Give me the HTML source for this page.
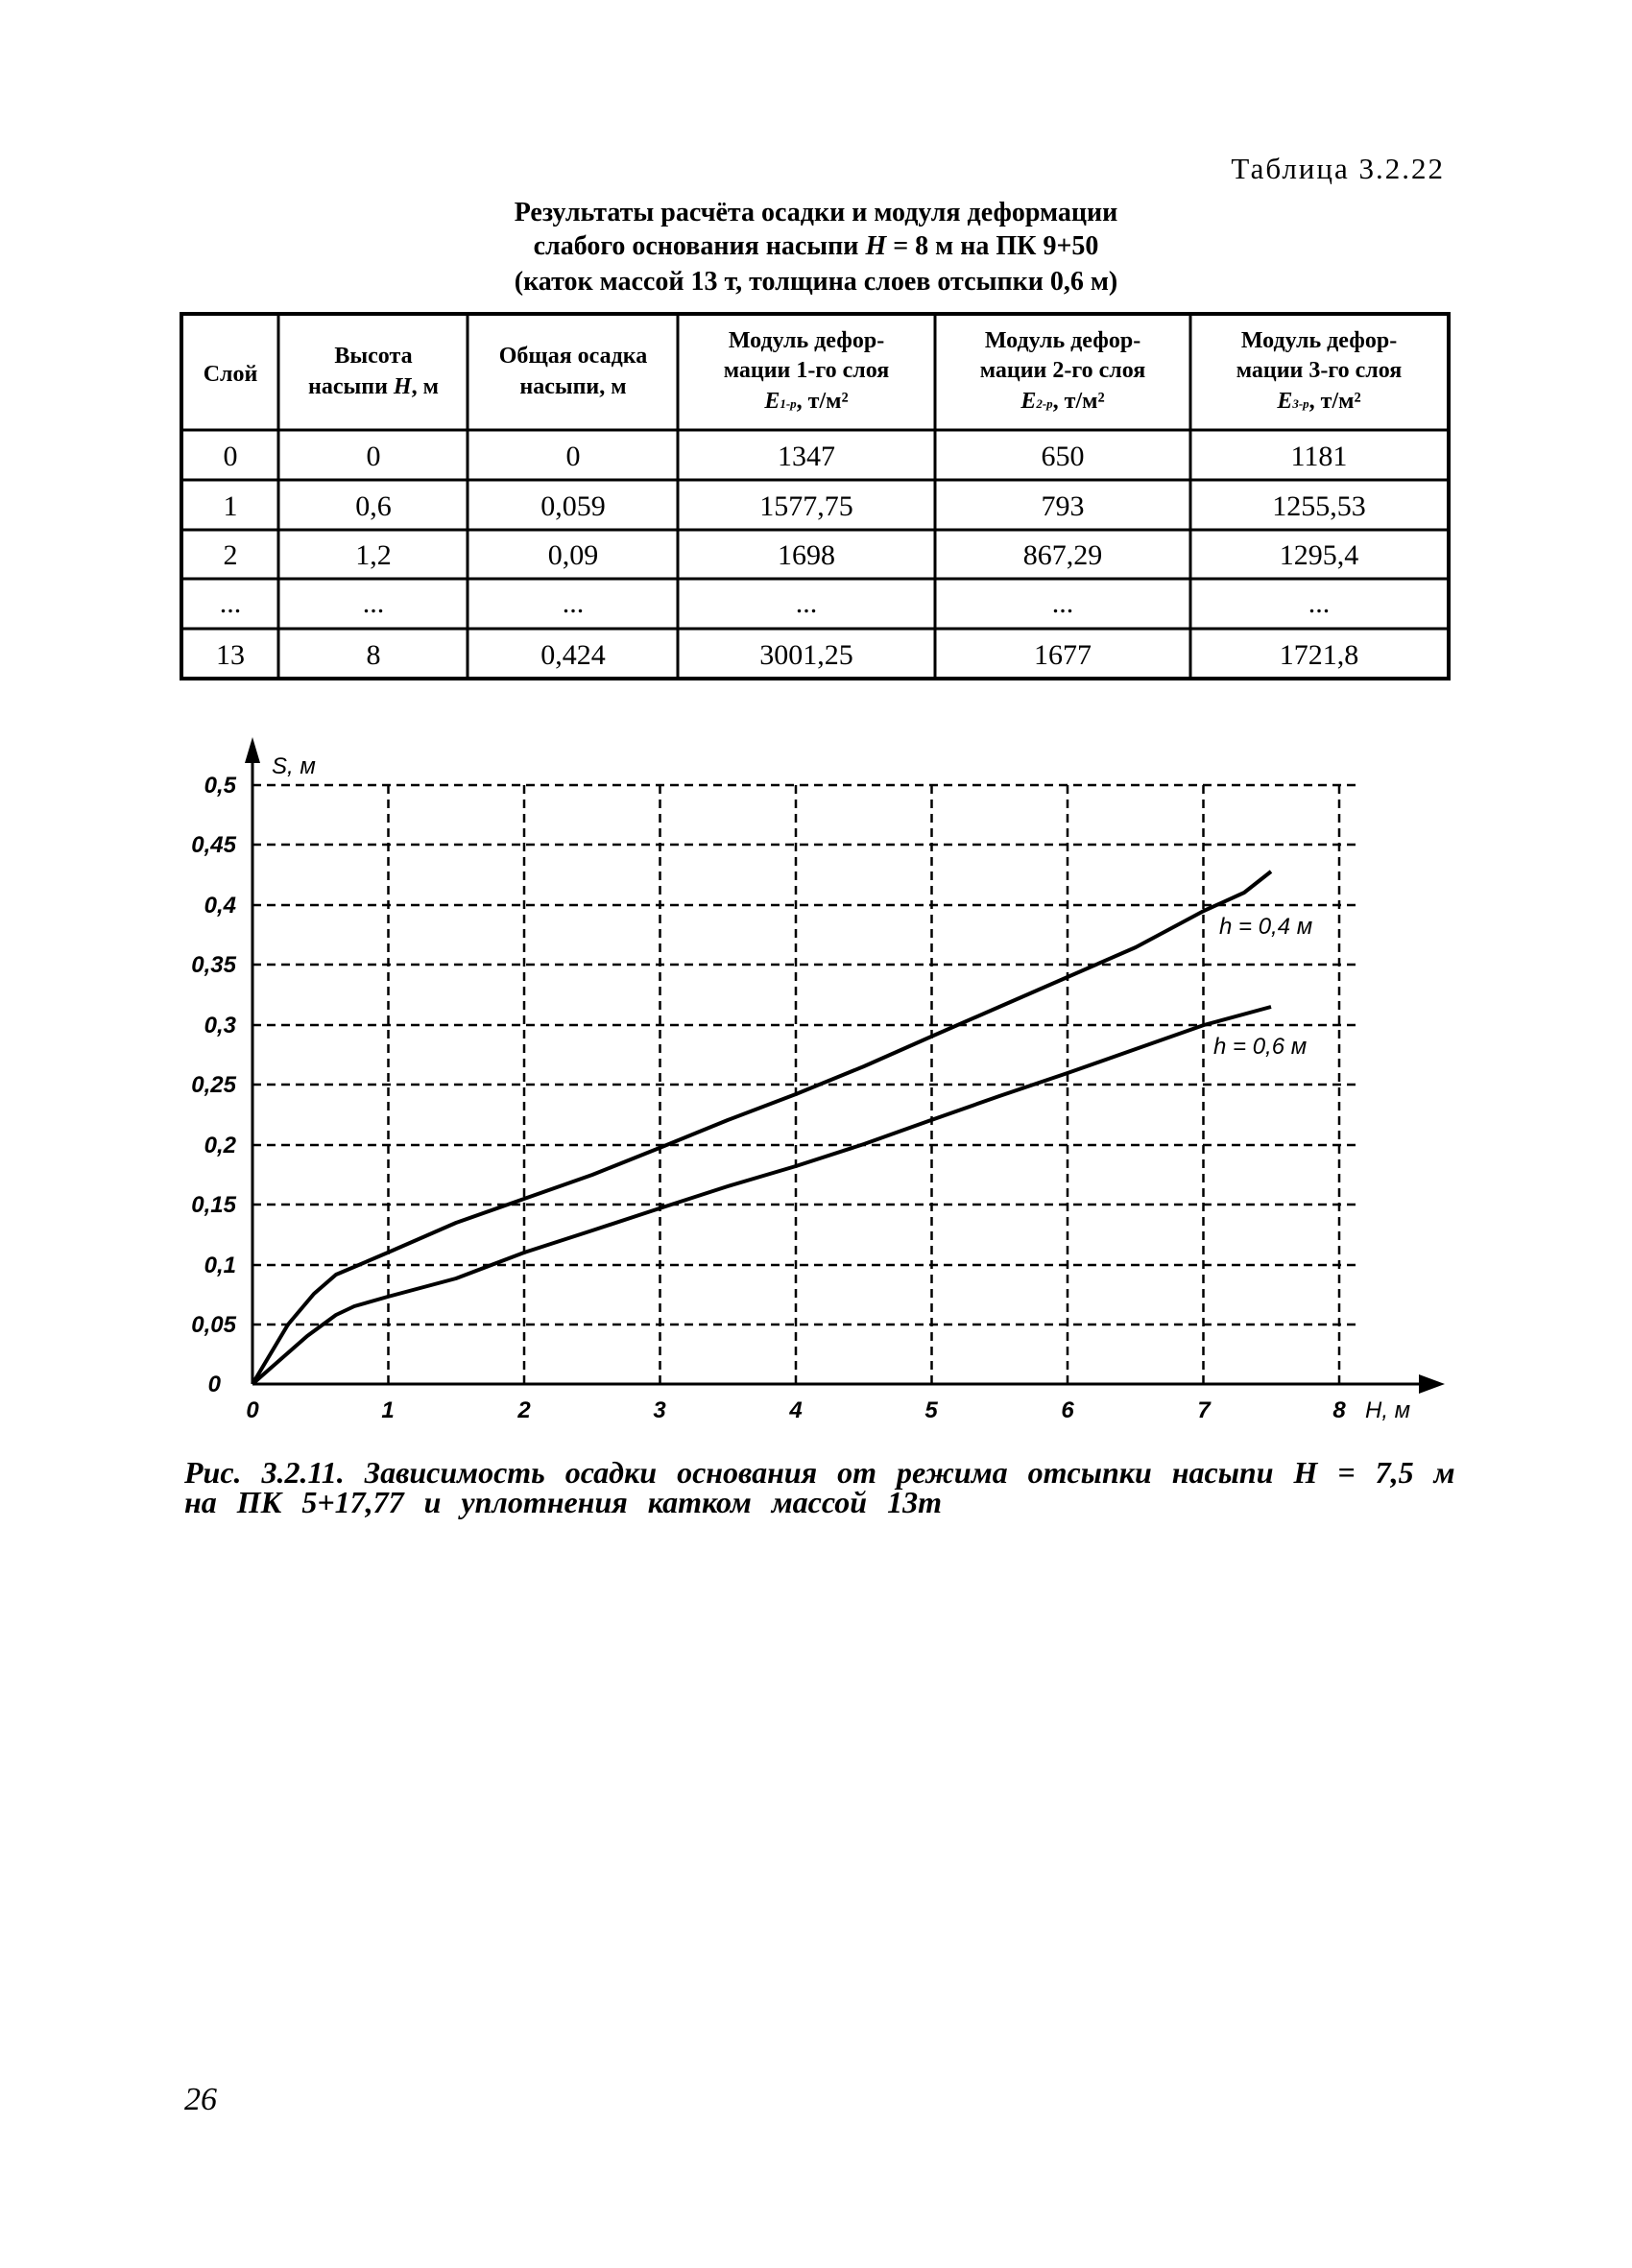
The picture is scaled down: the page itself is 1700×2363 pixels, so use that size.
<!DOCTYPE html>
<html><head><meta charset="utf-8"><style>
html,body{margin:0;padding:0;background:#fff;}
svg{display:block}
</style></head><body>
<svg width="1700" height="2363" xmlns="http://www.w3.org/2000/svg">
<rect width="1700" height="2363" fill="#fff"/>
<g font-family="Liberation Serif, serif" fill="#000">
<text x="1505" y="186" text-anchor="end" font-size="31" letter-spacing="2">Таблица 3.2.22</text>
<g font-weight="bold" font-size="28" text-anchor="middle">
<text x="850" y="230">Результаты расчёта осадки и модуля деформации</text>
<text x="850" y="265">слабого основания насыпи <tspan font-style="italic">H</tspan> = 8 м на ПК 9+50</text>
<text x="850" y="302">(каток массой 13 т, толщина слоев отсыпки 0,6 м)</text>
</g>
</g>
<g stroke="#000" fill="none">
<rect x="189" y="327" width="1320" height="380" stroke-width="4"/>
<g stroke-width="3">
<line x1="189" y1="448" x2="1509" y2="448"/>
<line x1="189" y1="500" x2="1509" y2="500"/>
<line x1="189" y1="552" x2="1509" y2="552"/>
<line x1="189" y1="603" x2="1509" y2="603"/>
<line x1="189" y1="655" x2="1509" y2="655"/>
<line x1="290" y1="327" x2="290" y2="707"/>
<line x1="487" y1="327" x2="487" y2="707"/>
<line x1="706" y1="327" x2="706" y2="707"/>
<line x1="974" y1="327" x2="974" y2="707"/>
<line x1="1240" y1="327" x2="1240" y2="707"/>
</g></g>
<g font-family="Liberation Serif, serif" fill="#000" text-anchor="middle">
<g font-weight="bold" font-size="24">
<text x="240" y="397">Слой</text>
<text x="389" y="378">Высота</text><text x="389" y="410">насыпи <tspan font-style="italic">H</tspan>, м</text>
<text x="597" y="378">Общая осадка</text><text x="597" y="410">насыпи, м</text>
<text x="840" y="362">Модуль дефор-</text><text x="840" y="393">мации 1-го слоя</text><text x="840" y="425"><tspan font-style="italic">E</tspan><tspan font-size="13" font-style="italic">1-р</tspan>, т/м²</text>
<text x="1107" y="362">Модуль дефор-</text><text x="1107" y="393">мации 2-го слоя</text><text x="1107" y="425"><tspan font-style="italic">E</tspan><tspan font-size="13" font-style="italic">2-р</tspan>, т/м²</text>
<text x="1374" y="362">Модуль дефор-</text><text x="1374" y="393">мации 3-го слоя</text><text x="1374" y="425"><tspan font-style="italic">E</tspan><tspan font-size="13" font-style="italic">3-р</tspan>, т/м²</text>
</g>
<g font-size="30">
<text x="240" y="485">0</text><text x="389" y="485">0</text><text x="597" y="485">0</text><text x="840" y="485">1347</text><text x="1107" y="485">650</text><text x="1374" y="485">1181</text>
<text x="240" y="537">1</text><text x="389" y="537">0,6</text><text x="597" y="537">0,059</text><text x="840" y="537">1577,75</text><text x="1107" y="537">793</text><text x="1374" y="537">1255,53</text>
<text x="240" y="588">2</text><text x="389" y="588">1,2</text><text x="597" y="588">0,09</text><text x="840" y="588">1698</text><text x="1107" y="588">867,29</text><text x="1374" y="588">1295,4</text>
<text x="240" y="638">...</text><text x="389" y="638">...</text><text x="597" y="638">...</text><text x="840" y="638">...</text><text x="1107" y="638">...</text><text x="1374" y="638">...</text>
<text x="240" y="692">13</text><text x="389" y="692">8</text><text x="597" y="692">0,424</text><text x="840" y="692">3001,25</text><text x="1107" y="692">1677</text><text x="1374" y="692">1721,8</text>
</g></g>
<g stroke="#000" stroke-width="2.5" stroke-dasharray="9,6" fill="none">
<line x1="263" y1="818" x2="1417" y2="818"/>
<line x1="263" y1="880" x2="1417" y2="880"/>
<line x1="263" y1="943" x2="1417" y2="943"/>
<line x1="263" y1="1005" x2="1417" y2="1005"/>
<line x1="263" y1="1068" x2="1417" y2="1068"/>
<line x1="263" y1="1130" x2="1417" y2="1130"/>
<line x1="263" y1="1193" x2="1417" y2="1193"/>
<line x1="263" y1="1255" x2="1417" y2="1255"/>
<line x1="263" y1="1318" x2="1417" y2="1318"/>
<line x1="263" y1="1380" x2="1417" y2="1380"/>
<line x1="404.5" y1="818" x2="404.5" y2="1442"/>
<line x1="546" y1="818" x2="546" y2="1442"/>
<line x1="687.5" y1="818" x2="687.5" y2="1442"/>
<line x1="829" y1="818" x2="829" y2="1442"/>
<line x1="970.5" y1="818" x2="970.5" y2="1442"/>
<line x1="1112" y1="818" x2="1112" y2="1442"/>
<line x1="1253.5" y1="818" x2="1253.5" y2="1442"/>
<line x1="1395" y1="818" x2="1395" y2="1442"/>
</g>
<g stroke="#000" stroke-width="3">
<line x1="263" y1="1442" x2="1490" y2="1442"/>
<line x1="263" y1="1442" x2="263" y2="785"/>
</g>
<polygon points="1505,1442 1478,1432 1478,1452" fill="#000"/>
<polygon points="263,768 255,795 271,795" fill="#000"/>
<g fill="none" stroke="#000" stroke-width="4" stroke-linejoin="round">
<polyline points="263,1442 300,1380 327,1348 350,1328 376,1317 404,1305 475,1274 546,1249 617,1224 687,1196 758,1167 829,1140 900,1111 970,1080 1041,1049 1112,1018 1183,987 1254,949 1296,930 1324,908"/>
<polyline points="263,1442 320,1392 350,1370 369,1361 404,1351 475,1332 546,1305 617,1282 687,1259 758,1236 829,1215 900,1192 970,1167 1041,1142 1112,1118 1183,1093 1254,1068 1324,1049"/>
</g>
<g font-family="Liberation Sans, sans-serif" font-style="italic" font-weight="bold" font-size="24" fill="#000">
<text x="246" y="826" text-anchor="end">0,5</text>
<text x="246" y="888" text-anchor="end">0,45</text>
<text x="246" y="951" text-anchor="end">0,4</text>
<text x="246" y="1013" text-anchor="end">0,35</text>
<text x="246" y="1076" text-anchor="end">0,3</text>
<text x="246" y="1138" text-anchor="end">0,25</text>
<text x="246" y="1201" text-anchor="end">0,2</text>
<text x="246" y="1263" text-anchor="end">0,15</text>
<text x="246" y="1326" text-anchor="end">0,1</text>
<text x="246" y="1388" text-anchor="end">0,05</text>
<text x="230" y="1450" text-anchor="end">0</text>
<g text-anchor="middle">
<text x="263" y="1477">0</text><text x="404" y="1477">1</text><text x="546" y="1477">2</text><text x="687" y="1477">3</text><text x="829" y="1477">4</text><text x="970" y="1477">5</text><text x="1112" y="1477">6</text><text x="1254" y="1477">7</text><text x="1395" y="1477">8</text>
</g>
<text x="1422" y="1477" font-weight="normal">H, м</text>
<text x="283" y="806" font-weight="normal">S, м</text>
<text x="1270" y="973" font-weight="normal">h = 0,4 м</text>
<text x="1264" y="1098" font-weight="normal">h = 0,6 м</text>
</g>
<g font-family="Liberation Serif, serif" font-style="italic" font-weight="bold" font-size="32" fill="#000">
<text x="192" y="1545" word-spacing="13">Рис. 3.2.11. Зависимость осадки основания от режима отсыпки насыпи H = 7,5 м</text>
<text x="192" y="1576" word-spacing="13">на ПК 5+17,77 и уплотнения катком массой 13т</text>
<text x="192" y="2198" font-size="34" font-weight="normal">26</text>
</g>
</svg>
</body></html>
